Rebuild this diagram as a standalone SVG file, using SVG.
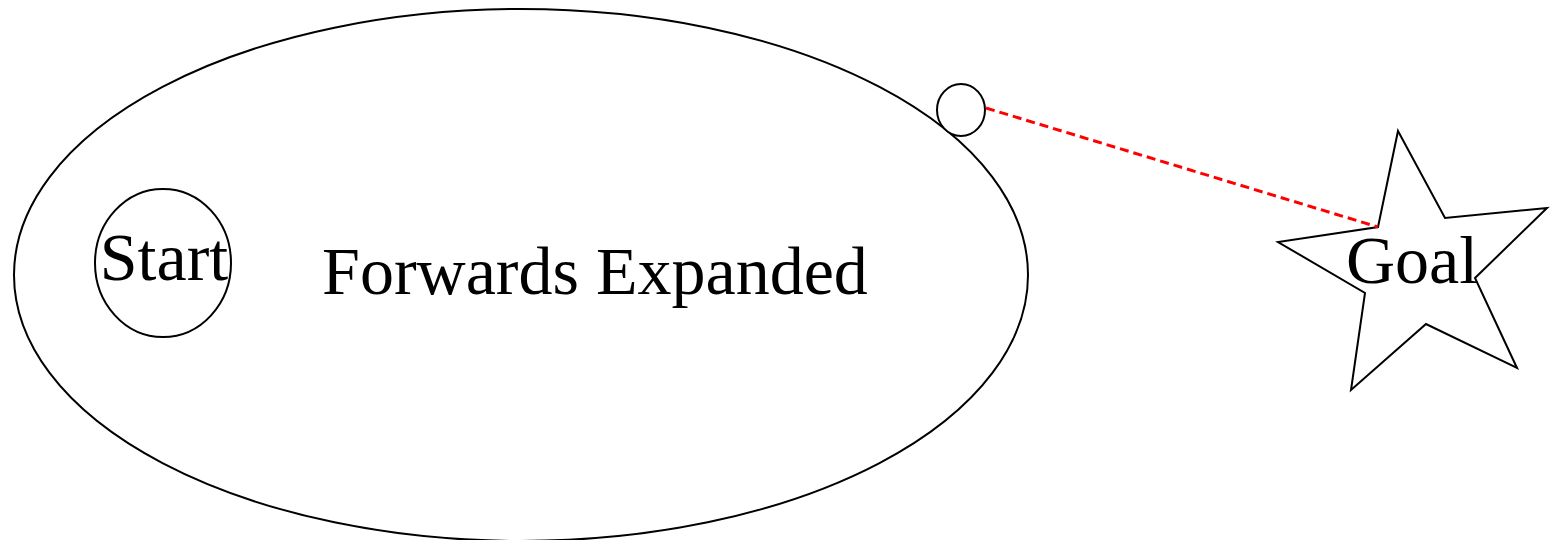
<svg xmlns="http://www.w3.org/2000/svg" width="1553" height="540" viewBox="0 0 1553 540">
<style>
.shape{fill:#fff;stroke:#000;stroke-width:2}
.lbl{font-family:"Liberation Serif","Times New Roman",serif;font-size:68px;fill:#000;text-anchor:middle}
.conn{fill:none;stroke:#f00;stroke-width:3;stroke-dasharray:9,5}
</style>
<rect width="1553" height="540" fill="#fff"/>
<g id="forwards">
<ellipse class="shape" cx="521" cy="275" rx="507" ry="266"/>
<text class="lbl" x="595" y="294">Forwards Expanded</text>
</g>
<g id="start">
<ellipse class="shape" cx="163" cy="263" rx="68" ry="74"/>
<text class="lbl" x="164" y="280">Start</text>
</g>
<g id="frontier">
<ellipse class="shape" cx="961" cy="110" rx="24" ry="26"/>
</g>
<g id="goal">
<polygon class="shape" points="1398,131 1445,218 1547,208 1475,278 1517,368 1426,324 1351,390 1365,293 1278,242 1378,227"/>
<text class="lbl" x="1412" y="283">Goal</text>
</g>
<g id="connectors">
<line class="conn" x1="986" y1="108" x2="1378" y2="227"/>
</g>
</svg>
